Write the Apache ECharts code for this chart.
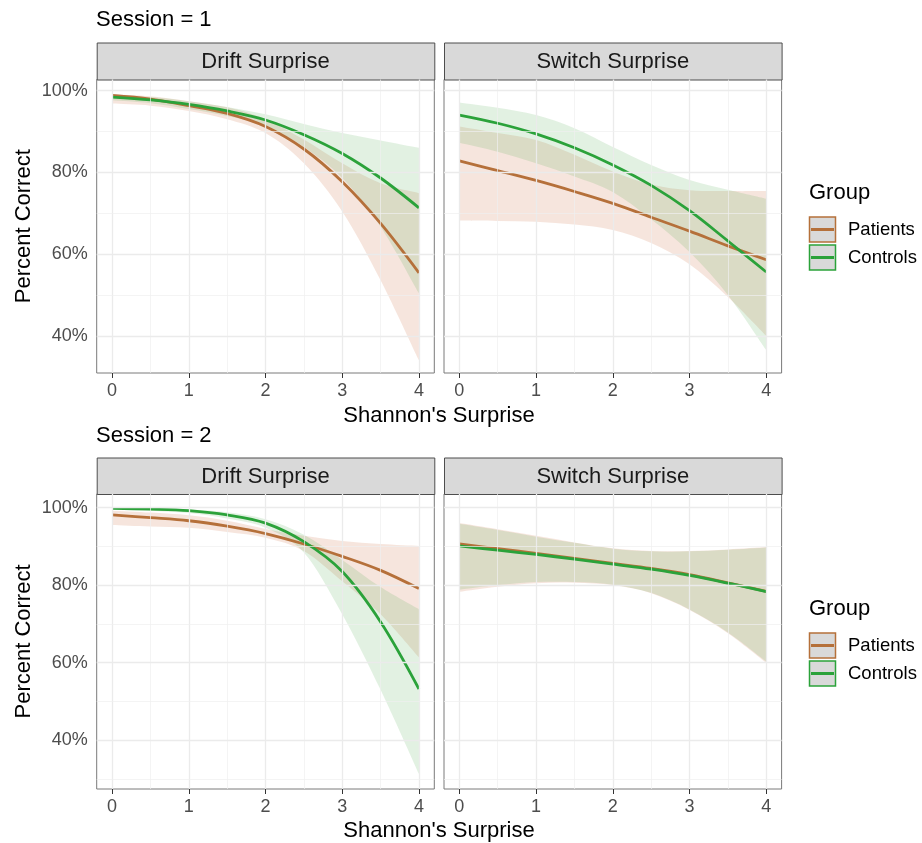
<!DOCTYPE html>
<html>
<head>
<meta charset="utf-8">
<script src="https://cdn.jsdelivr.net/npm/echarts@6/dist/echarts.min.js"></script>
<style>
  html, body { margin: 0; padding: 0; background: #fff; }
  #main { width: 922px; height: 843px; }
</style>
</head>
<body>
<div id="main"></div>
<script>
// x values (Shannon's surprise) where the fitted curves were read
const xs = [0, 0.5, 1, 1.5, 2, 2.5, 3, 3.5, 4];
const xTicks = [0, 1, 2, 3, 4];
const yTicks = [40, 60, 80, 100];
const groups = ["Patients", "Controls"];
const panelNames = ["Drift Surprise", "Switch Surprise"];

// Session 1, Drift Surprise
const s1DriftPatients = [98.8, 97.9, 96.3, 94.4, 91.2, 85.7, 77.7, 67.5, 55.4];
const s1DriftPatientsLo = [96.8, 96.3, 95.0, 93.0, 89.6, 82.2, 70.4, 53.6, 34.0];
const s1DriftPatientsHi = [99.1, 98.6, 97.4, 95.9, 93.0, 88.0, 82.2, 77.3, 74.9];
const s1DriftControls = [98.4, 97.7, 96.6, 95.0, 92.8, 89.2, 84.6, 78.6, 71.3];
const s1DriftControlsLo = [97.6, 96.9, 95.5, 93.8, 91.4, 86.2, 78.6, 66.7, 50.4];
const s1DriftControlsHi = [99.1, 98.4, 97.4, 96.0, 94.2, 91.8, 89.6, 87.8, 86.0];

// Session 1, Switch Surprise
const s1SwitchPatients = [82.8, 80.4, 78.0, 75.3, 72.4, 69.0, 65.6, 62.0, 58.6];
const s1SwitchPatientsLo = [68.2, 68.1, 67.9, 67.2, 65.9, 62.7, 57.5, 49.5, 40.0];
const s1SwitchPatientsHi = [91.2, 89.6, 87.9, 84.3, 80.2, 77.0, 75.6, 75.4, 75.4];
const s1SwitchControls = [94.0, 92.0, 89.4, 86.0, 81.8, 76.8, 70.6, 63.2, 55.6];
const s1SwitchControlsLo = [87.2, 85.0, 82.2, 79.0, 75.2, 68.5, 60.5, 50.0, 36.5];
const s1SwitchControlsHi = [97.1, 95.8, 94.0, 90.8, 86.2, 81.8, 78.1, 75.7, 73.5];

// Session 2, Drift Surprise
const s2DriftPatients = [98.1, 97.4, 96.6, 95.2, 93.3, 90.6, 87.4, 83.8, 79.1];
const s2DriftPatientsLo = [95.5, 95.1, 94.8, 93.7, 92.2, 88.8, 81.0, 72.5, 61.4];
const s2DriftPatientsHi = [99.2, 98.7, 98.0, 96.6, 94.5, 92.7, 91.4, 90.6, 90.1];
const s2DriftControls = [99.8, 99.6, 99.2, 98.1, 96.0, 91.2, 83.5, 70.5, 53.2];
const s2DriftControlsLo = [99.6, 99.2, 98.6, 97.2, 94.8, 88.4, 72.5, 53.0, 31.3];
const s2DriftControlsHi = [99.9, 99.8, 99.5, 98.8, 97.0, 93.0, 86.5, 79.5, 73.8];

// Session 2, Switch Surprise
const s2SwitchPatients = [90.6, 89.4, 88.2, 86.9, 85.6, 84.3, 82.7, 80.6, 78.4];
const s2SwitchPatientsLo = [78.3, 79.6, 80.5, 80.6, 80.0, 77.9, 73.6, 67.6, 60.0];
const s2SwitchPatientsHi = [96.0, 94.4, 92.7, 91.0, 89.5, 88.8, 88.8, 89.2, 89.8];
const s2SwitchControls = [90.1, 89.0, 87.9, 86.7, 85.4, 84.1, 82.5, 80.5, 78.3];
const s2SwitchControlsLo = [78.8, 80.0, 80.8, 80.8, 80.1, 78.0, 73.7, 67.8, 60.3];
const s2SwitchControlsHi = [95.8, 94.2, 92.5, 90.9, 89.4, 88.7, 88.7, 89.1, 89.7];

const colors = ["#B5703A", "#2BA23A"];
const fills = ["rgba(205,115,75,0.19)", "rgba(60,160,60,0.15)"];
const FONT = "Liberation Sans, Arial, sans-serif";

// [fit, lo, hi] per group for each panel
const panels = [
  [[s1DriftPatients, s1DriftPatientsLo, s1DriftPatientsHi], [s1DriftControls, s1DriftControlsLo, s1DriftControlsHi]],
  [[s1SwitchPatients, s1SwitchPatientsLo, s1SwitchPatientsHi], [s1SwitchControls, s1SwitchControlsLo, s1SwitchControlsHi]],
  [[s2DriftPatients, s2DriftPatientsLo, s2DriftPatientsHi], [s2DriftControls, s2DriftControlsLo, s2DriftControlsHi]],
  [[s2SwitchPatients, s2SwitchPatientsLo, s2SwitchPatientsHi], [s2SwitchControls, s2SwitchControlsLo, s2SwitchControlsHi]],
];

// layout of the four facet panels
const panelLeft = [96.7, 444, 96.7, 444];
const panelTop = [79.5, 79.5, 494, 494];
const panelW = 337.6;
const panelH = [293.5, 293.5, 295, 295];
const yMin = [30.9, 30.9, 27.4, 27.4];
const yMax = [102.7, 102.7, 103.5, 103.5];

// smooth path through screen points (Catmull-Rom as cubic beziers)
function curveTo(pts) {
  let d = "";
  for (let i = 0; i < pts.length - 1; i++) {
    const p0 = pts[i - 1] || pts[i], p1 = pts[i], p2 = pts[i + 1], p3 = pts[i + 2] || pts[i + 1];
    const c1 = [p1[0] + (p2[0] - p0[0]) / 6, p1[1] + (p2[1] - p0[1]) / 6];
    const c2 = [p2[0] - (p3[0] - p1[0]) / 6, p2[1] - (p3[1] - p1[1]) / 6];
    d += " C" + c1[0] + " " + c1[1] + " " + c2[0] + " " + c2[1] + " " + p2[0] + " " + p2[1];
  }
  return d;
}

const chart = echarts.init(document.getElementById("main"));

const grids = [], xAxes = [], yAxes = [], series = [];
panels.forEach((panel, i) => {
  grids.push({
    left: panelLeft[i], top: panelTop[i], width: panelW, height: panelH[i],
    show: true, borderColor: "#7a7a7a", borderWidth: 1, backgroundColor: "#fff",
  });
  xAxes.push({
    type: "value", gridIndex: i, min: -0.2, max: 4.2,
    axisLine: { show: false },
    splitLine: { show: false },
    axisTick: { show: true, customValues: xTicks, length: 5, lineStyle: { color: "#333" } },
    axisLabel: { customValues: xTicks, color: "#4d4d4d", fontSize: 18, fontFamily: FONT, margin: 9 },
  });
  const left = i % 2 === 0;
  yAxes.push({
    type: "value", gridIndex: i, min: yMin[i], max: yMax[i],
    axisLine: { show: false },
    splitLine: { show: false },
    axisTick: { show: left, customValues: yTicks, length: 5, lineStyle: { color: "#333" } },
    axisLabel: {
      show: left, customValues: yTicks, color: "#4d4d4d", fontSize: 18, fontFamily: FONT, margin: 9,
      formatter: (v) => v + "%",
    },
    name: left ? "Percent Correct" : "",
    nameLocation: "middle", nameRotate: 90, nameGap: 62,
    nameTextStyle: { color: "#000", fontSize: 22, fontFamily: FONT },
  });

  // panel grid lines (major + minor)
  const major = { width: 1.3, color: "#ebebeb", type: "solid" };
  const minor = { width: 0.7, color: "#efefef", type: "solid" };
  const lines = [];
  xTicks.forEach((v) => lines.push({ xAxis: v, lineStyle: major }));
  [0.5, 1.5, 2.5, 3.5].forEach((v) => lines.push({ xAxis: v, lineStyle: minor }));
  yTicks.forEach((v) => lines.push({ yAxis: v, lineStyle: major }));
  [30, 50, 70, 90].filter((v) => v > yMin[i]).forEach((v) => lines.push({ yAxis: v, lineStyle: minor }));
  series.push({
    type: "line", xAxisIndex: i, yAxisIndex: i, data: [], silent: true, z: 0,
    markLine: { silent: true, symbol: "none", label: { show: false }, animation: false, data: lines },
  });

  // confidence ribbons
  panel.forEach((g, gi) => {
    const [, lo, hi] = g;
    series.push({
      type: "custom", xAxisIndex: i, yAxisIndex: i, z: 1, silent: true, clip: true,
      data: xs.map((x, k) => [x, lo[k], hi[k]]),
      encode: { x: 0, y: [1, 2] },
      renderItem: (params, api) => {
        if (params.dataIndex !== 0) return null;
        const top = xs.map((x, k) => api.coord([x, hi[k]]));
        const bot = xs.map((x, k) => api.coord([x, lo[k]])).reverse();
        const d = "M" + top[0][0] + " " + top[0][1] + curveTo(top) +
          " L" + bot[0][0] + " " + bot[0][1] + curveTo(bot) + " Z";
        return { type: "path", shape: { pathData: d }, style: { fill: fills[gi] } };
      },
    });
  });
  // fitted curves
  panel.forEach((g, gi) => {
    series.push({
      name: groups[gi], type: "line", xAxisIndex: i, yAxisIndex: i, z: 3,
      symbol: "none", smooth: 0.35, lineStyle: { color: colors[gi], width: 2.8 },
      data: xs.map((x, k) => [x, g[0][k]]),
    });
  });
});

// facet strips, titles and legends
const graphic = [];
panelNames.concat(panelNames).forEach((name, i) => {
  const top = i < 2 ? 42.5 : 457.5;
  graphic.push({
    type: "rect", left: panelLeft[i], top: top,
    shape: { width: panelW, height: panelTop[i] - top },
    style: { fill: "#d9d9d9", stroke: "#4d4d4d", lineWidth: 1 },
  });
  graphic.push({
    type: "text", x: panelLeft[i] + panelW / 2, y: (top + panelTop[i]) / 2 + 1,
    style: { text: name, fill: "#1a1a1a", font: "22px " + FONT, align: "center", verticalAlign: "middle" },
  });
});
["Session = 1", "Session = 2"].forEach((t, s) => {
  graphic.push({
    type: "text", x: 96, y: s === 0 ? 20 : 436,
    style: { text: t, fill: "#000", font: "22px " + FONT, verticalAlign: "middle" },
  });
  graphic.push({
    type: "text", x: 439, y: s === 0 ? 416 : 831,
    style: { text: "Shannon's Surprise", fill: "#000", font: "22px " + FONT, align: "center", verticalAlign: "middle" },
  });
  const gy = s === 0 ? 193 : 609;
  graphic.push({
    type: "text", x: 809, y: gy,
    style: { text: "Group", fill: "#000", font: "22px " + FONT, verticalAlign: "middle" },
  });
  groups.forEach((g, gi) => {
    const ky = gy + 24 + gi * 28;
    graphic.push({
      type: "rect", x: 809.5, y: ky,
      shape: { width: 26, height: 25 },
      style: { fill: "#d9d9d9", stroke: colors[gi], lineWidth: 1.5 },
    });
    graphic.push({
      type: "line", shape: { x1: 811, y1: ky + 12.5, x2: 834, y2: ky + 12.5 },
      style: { stroke: colors[gi], lineWidth: 3 },
    });
    graphic.push({
      type: "text", x: 848, y: ky + 13,
      style: { text: g, fill: "#000", font: "18.5px " + FONT, verticalAlign: "middle" },
    });
  });
});

chart.setOption({
  animation: false,
  backgroundColor: "#fff",
  grid: grids,
  xAxis: xAxes,
  yAxis: yAxes,
  series: series,
  graphic: graphic,
});
</script>
</body>
</html>
